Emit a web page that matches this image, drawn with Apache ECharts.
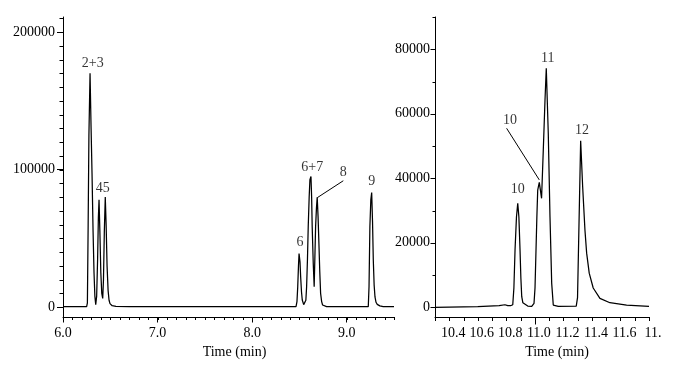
<!DOCTYPE html>
<html>
<head>
<meta charset="utf-8">
<script src="https://cdn.jsdelivr.net/npm/echarts@6/dist/echarts.min.js"></script>
<style>
html,body{margin:0;padding:0;background:#fff;}
#c{width:675px;height:369px;}
</style>
</head>
<body>
<div id="c"></div>
<script>
// ---- Left panel data (Time in min, signal) ----
var leftTime = [6.00,6.20,6.250,6.258,6.266,6.274,6.286,6.297,6.307,6.318,6.328,6.337,6.346,6.356,6.366,6.374,6.381,6.390,6.400,6.410,6.420,6.428,6.437,6.447,6.456,6.466,6.477,6.487,6.497,6.52,6.56,6.7,7.5,8.464,
  8.474,8.482,8.490,8.496,8.499,8.506,8.513,8.522,8.530,8.545,8.559,8.568,8.576,8.585,8.593,8.603,8.611,8.622,8.629,8.635,8.646,8.656,8.663,8.671,8.680,8.688,8.697,8.706,8.715,8.724,8.735,8.745,8.760,8.787,9.0,9.228,
  9.236,9.245,9.255,9.264,9.273,9.281,9.290,9.299,9.310,9.323,9.350,9.386,9.5];
var leftSignal = [300,300,400,3000,60000,125000,170000,130000,97000,55000,25000,8000,1700,8000,35000,65000,78000,55000,25000,10000,6300,20000,55000,80000,60000,30000,12000,5000,2500,1000,500,300,300,300,
  4000,14700,30000,39000,40200,33000,22000,11000,5160,1800,1000,5000,14800,35000,58400,80000,92600,95000,80000,58400,32000,14800,35000,58400,72000,79900,66000,46400,26000,10000,4000,1500,700,300,300,300,
  15000,58400,78000,83300,62000,34400,16000,7350,3500,2000,900,400,300];

// ---- Right panel data ----
var rightTime = [10.30,10.60,10.75,10.79,10.81,10.830,10.845,10.853,10.861,10.871,10.880,10.888,10.896,10.902,10.908,10.916,10.924,10.95,10.978,10.994,11.001,11.008,11.014,11.020,11.031,11.047,11.059,11.071,11.080,11.094,11.106,11.118,11.129,11.164,11.290,
  11.297,11.299,11.321,11.335,11.351,11.363,11.381,11.409,11.456,11.526,11.643,11.80];
var rightSignal = [0,200,500,800,500,500,800,6000,17760,28000,32240,28000,17760,9000,3300,1400,800,400,300,1240,6000,17760,28000,36360,38750,33800,48700,64200,74100,53900,28100,7420,700,300,400,
  400,3000,51600,37400,23970,16800,10600,5980,2790,1430,710,300];

// ---- Peak annotations ----
var leftLabels = ['2+3','4','5','6','6+7','8','9'];
var leftLabelT = [6.314,6.383,6.457,8.506,8.636,8.964,9.265];
var leftLabelV = [177300,86400,86400,46800,101400,97700,91200];
var leftLeaderT = [8.689,8.964];
var leftLeaderV = [79600,91900];

var rightLabels = ['10','10','11','12'];
var rightLabelT = [10.880,10.826,11.090,11.330];
var rightLabelV = [36500,58000,77200,55000];
var rightLeaderT = [10.802,11.031];
var rightLeaderV = [55500,39500];

// ---- Axis ticks / labels ----
var leftXLabels = [6.0,7.0,8.0,9.0];
var leftYLabels = [0,100000,200000];
var rightXLabelVals = [10.4,10.6,10.8,11.0,11.2,11.4,11.6,11.8];
var rightXLabelText = ['10.4','10.6','10.8','11.0','11.2','11.4','11.6','11.'];
var rightYLabels = [0,20000,40000,60000,80000];

function range(a,b,s){var r=[];var n=Math.round((b-a)/s);for(var i=0;i<=n;i++){r.push(+(a+i*s).toFixed(4));}return r;}
var leftXMinor = range(6.0,9.5,0.1);
var leftYMinor = range(0,210000,10000);
var rightXMinor = range(10.3,11.8,0.1);
var rightYMinor = range(10000,90000,20000);

function zip(a,b){return a.map(function(v,i){return [v,b[i]];});}

var FONT = 'Liberation Serif';
var TXT = '#000';
var AX = '#000';
function plain(v){return String(v);}

var LX=[6.0,9.5], LY=[-7200,211000], RX=[10.3,11.8], RY=[-3000,90000];

function xMain(grid,min,max,labels,fmt,majorTicks,majorLen,namePad,labelPad){
  return {type:'value',gridIndex:grid,min:min,max:max,position:'bottom',
    axisLine:{show:true,onZero:false,lineStyle:{color:AX,width:1}},
    axisTick:{show:true,customValues:majorTicks,length:majorLen,lineStyle:{color:AX}},
    axisLabel:{show:true,customValues:labels,formatter:fmt,fontFamily:FONT,fontSize:14,color:TXT,margin:9,padding:labelPad},
    splitLine:{show:false},
    name:'Time (min)',nameLocation:'middle',nameGap:27,
    nameTextStyle:{fontFamily:FONT,fontSize:14,color:TXT,padding:namePad}};
}
function yMain(grid,min,max,labels,len,margin){
  return {type:'value',gridIndex:grid,min:min,max:max,position:'left',
    axisLine:{show:true,onZero:false,lineStyle:{color:AX,width:1}},
    axisTick:{show:true,customValues:labels,length:len,lineStyle:{color:AX}},
    axisLabel:{show:true,customValues:labels,formatter:plain,fontFamily:FONT,fontSize:14,color:TXT,margin:margin},
    splitLine:{show:false}};
}

// minor tick marks, positioned through the axis scales (pixel-snapped for crisp 1px lines)
function minorTicks(xi,yi,values,dir,len,fixed){
  return {type:'custom',xAxisIndex:xi,yAxisIndex:yi,silent:true,clip:false,z:10,
    encode:{x:0,y:1},
    data:values.map(function(v){return dir==='x'?[v,fixed]:[fixed,v];}),
    renderItem:function(params,api){
      var p = api.coord([api.value(0),api.value(1)]);
      var x = Math.round(p[0]), y = Math.round(p[1]);
      var shape = dir==='x' ? {x1:x+0.5,y1:y,x2:x+0.5,y2:y+len} : {x1:x-len,y1:y+0.5,x2:x,y2:y+0.5};
      return {type:'line',shape:shape,style:{stroke:AX,lineWidth:1,fill:null}};
    }};
}

var labelStyle = {show:true,position:'inside',fontFamily:FONT,fontSize:14,color:TXT,formatter:function(p){return p.name;}};

var option = {
  animation:false,
  backgroundColor:'#fff',
  grid:[
    {left:63,top:17,width:331,height:300},
    {left:435,top:17,width:214,height:300}
  ],
  xAxis:[
    xMain(0,LX[0],LX[1],leftXLabels,function(v){return v.toFixed(1);},leftXLabels,5.5,[0,0,0,12],0),
    xMain(1,RX[0],RX[1],rightXLabelVals,function(v){var i=rightXLabelVals.findIndex(function(x){return Math.abs(x-v)<1e-6;});return i>=0?rightXLabelText[i]:'';},[11.0],7.5,[0,0,0,30],[0,0,0,8])
  ],
  yAxis:[
    yMain(0,LY[0],LY[1],leftYLabels,6,8),
    yMain(1,RY[0],RY[1],rightYLabels,4.5,5)
  ],
  series:[
    {type:'line',xAxisIndex:0,yAxisIndex:0,data:zip(leftTime,leftSignal),showSymbol:false,symbol:'none',
      lineStyle:{color:'#000',width:1.25},
      markLine:{silent:true,symbol:['none','none'],label:{show:false},lineStyle:{color:'#000',width:1,type:'solid'},
        data:[[{coord:[leftLeaderT[0],leftLeaderV[0]]},{coord:[leftLeaderT[1],leftLeaderV[1]]}]]}},
    {type:'line',xAxisIndex:1,yAxisIndex:1,data:zip(rightTime,rightSignal),showSymbol:false,symbol:'none',
      lineStyle:{color:'#000',width:1.25},
      markLine:{silent:true,symbol:['none','none'],label:{show:false},lineStyle:{color:'#000',width:1,type:'solid'},
        data:[[{coord:[rightLeaderT[0],rightLeaderV[0]]},{coord:[rightLeaderT[1],rightLeaderV[1]]}]]}},
    {type:'scatter',xAxisIndex:0,yAxisIndex:0,symbolSize:0,
      data:leftLabels.map(function(n,i){return {name:n,value:[leftLabelT[i],leftLabelV[i]]};}),
      label:labelStyle},
    {type:'scatter',xAxisIndex:1,yAxisIndex:1,symbolSize:0,
      data:rightLabels.map(function(n,i){return {name:n,value:[rightLabelT[i],rightLabelV[i]]};}),
      label:labelStyle},
    minorTicks(0,0,leftXMinor,'x',3,LY[0]),
    minorTicks(0,0,leftYMinor,'y',3.5,LX[0]),
    minorTicks(1,1,rightXMinor,'x',4,RY[0]),
    minorTicks(1,1,rightYMinor,'y',2.5,RX[0])
  ]
};
var chart = echarts.init(document.getElementById('c'),null,{renderer:'canvas'});
chart.setOption(option);
</script>
</body>
</html>
